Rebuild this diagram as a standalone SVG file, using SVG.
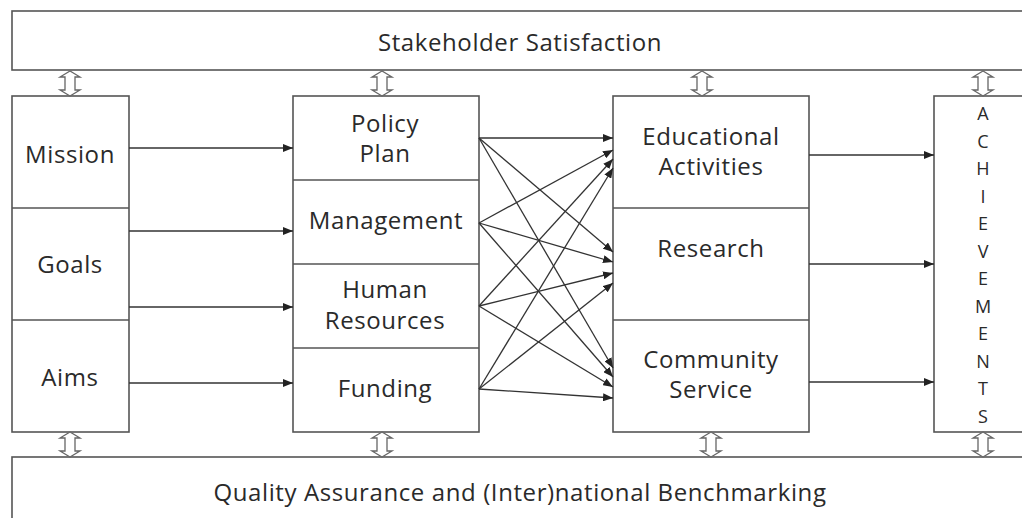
<svg xmlns="http://www.w3.org/2000/svg" width="1022" height="518" viewBox="0 0 1022 518">
<style>
.box{fill:#fff;stroke:#555;stroke-width:1.6}
.div{stroke:#555;stroke-width:1.6}
.t{font-family:"Open Sans","Noto Sans",sans-serif;font-size:24px;letter-spacing:0.6px;fill:#2a2a2a;text-anchor:middle}
.s{font-family:"Open Sans","Noto Sans",sans-serif;font-size:18px;fill:#2a2a2a;text-anchor:middle}
.c{stroke:#333;stroke-width:1.3;fill:none;marker-end:url(#ah)}
.ud{fill:#fff;stroke:#666;stroke-width:1.3}
</style>
<defs>
<marker id="ah" viewBox="0 0 10 8" refX="10" refY="4" markerWidth="10" markerHeight="8" markerUnits="userSpaceOnUse" orient="auto">
<path d="M0,0 L10,4 L0,8 z" fill="#222"/>
</marker>
<path id="udv" d="M0,0 L-10,6 L-5,6 L-5,19 L-10,19 L0,25 L10,19 L5,19 L5,6 L10,6 Z"/>
</defs>
<rect width="1022" height="518" fill="#fff"/>

<g id="stakeholder">
<rect class="box" x="12" y="11" width="1020" height="59"/>
<text class="t" x="520" y="51">Stakeholder Satisfaction</text>
</g>

<g id="quality">
<rect class="box" x="12" y="457" width="1020" height="80"/>
<text class="t" x="520" y="501">Quality Assurance and (Inter)national Benchmarking</text>
</g>

<g id="left-col">
<rect class="box" x="12" y="96" width="117" height="336"/>
<line class="div" x1="12" y1="208" x2="129" y2="208"/>
<line class="div" x1="12" y1="320" x2="129" y2="320"/>
</g>
<g id="mission"><text class="t" x="70" y="163">Mission</text></g>
<g id="goals"><text class="t" x="70" y="273">Goals</text></g>
<g id="aims"><text class="t" x="70" y="386">Aims</text></g>

<g id="mid-col">
<rect class="box" x="293" y="96" width="186" height="336"/>
<line class="div" x1="293" y1="180" x2="479" y2="180"/>
<line class="div" x1="293" y1="264" x2="479" y2="264"/>
<line class="div" x1="293" y1="348" x2="479" y2="348"/>
</g>
<g id="policy"><text class="t" x="385" y="132">Policy</text><text class="t" x="385" y="162">Plan</text></g>
<g id="management"><text class="t" x="386" y="229">Management</text></g>
<g id="human"><text class="t" x="385" y="298">Human</text><text class="t" x="385" y="329">Resources</text></g>
<g id="funding"><text class="t" x="385" y="397">Funding</text></g>

<g id="right-col">
<rect class="box" x="613" y="96" width="196" height="336"/>
<line class="div" x1="613" y1="208" x2="809" y2="208"/>
<line class="div" x1="613" y1="320" x2="809" y2="320"/>
</g>
<g id="education"><text class="t" x="711" y="145">Educational</text><text class="t" x="711" y="175">Activities</text></g>
<g id="research"><text class="t" x="711" y="257">Research</text></g>
<g id="community"><text class="t" x="711" y="368">Community</text><text class="t" x="711" y="398">Service</text></g>

<g id="achievements">
<rect class="box" x="934" y="96" width="100" height="336"/>
<text class="s" x="983" y="120">A</text>
<text class="s" x="983" y="147.5">C</text>
<text class="s" x="983" y="175">H</text>
<text class="s" x="983" y="202.5">I</text>
<text class="s" x="983" y="230">E</text>
<text class="s" x="983" y="257.5">V</text>
<text class="s" x="983" y="285">E</text>
<text class="s" x="983" y="312.5">M</text>
<text class="s" x="983" y="340">E</text>
<text class="s" x="983" y="367.5">N</text>
<text class="s" x="983" y="395">T</text>
<text class="s" x="983" y="422.5">S</text>
</g>

<g id="connectors">
<line class="c" x1="129" y1="148" x2="293" y2="148"/>
<line class="c" x1="129" y1="231" x2="293" y2="231"/>
<line class="c" x1="129" y1="307" x2="293" y2="307"/>
<line class="c" x1="129" y1="383" x2="293" y2="383"/>

<line class="c" x1="479" y1="138" x2="613" y2="138"/>
<line class="c" x1="479" y1="138" x2="613" y2="252"/>
<line class="c" x1="479" y1="138" x2="613" y2="368"/>
<line class="c" x1="479" y1="223" x2="613" y2="150"/>
<line class="c" x1="479" y1="223" x2="613" y2="262"/>
<line class="c" x1="479" y1="223" x2="613" y2="377"/>
<line class="c" x1="479" y1="306" x2="613" y2="159"/>
<line class="c" x1="479" y1="306" x2="613" y2="273"/>
<line class="c" x1="479" y1="306" x2="613" y2="387"/>
<line class="c" x1="479" y1="389" x2="613" y2="168"/>
<line class="c" x1="479" y1="389" x2="613" y2="283"/>
<line class="c" x1="479" y1="389" x2="613" y2="398"/>

<line class="c" x1="809" y1="155" x2="934" y2="155"/>
<line class="c" x1="809" y1="264" x2="934" y2="264"/>
<line class="c" x1="809" y1="382" x2="934" y2="382"/>

<use href="#udv" class="ud" x="70" y="71"/>
<use href="#udv" class="ud" x="382" y="71"/>
<use href="#udv" class="ud" x="702" y="71"/>
<use href="#udv" class="ud" x="983" y="71"/>
<use href="#udv" class="ud" x="70" y="432"/>
<use href="#udv" class="ud" x="382" y="432"/>
<use href="#udv" class="ud" x="711" y="432"/>
<use href="#udv" class="ud" x="983" y="432"/>
</g>
</svg>
